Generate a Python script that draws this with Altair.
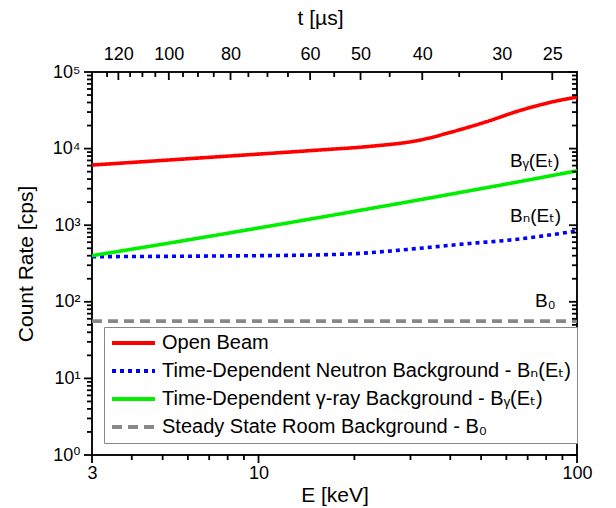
import math
import altair as alt
import pandas as pd

FONT = "Liberation Sans, Arial, DejaVu Sans, sans-serif"

# ---- data (E in keV, count rate in cps) ----
open_E = [3, 7.04, 15.6, 22.4, 32.1, 40.7, 51.9, 66, 84, 100]
open_V = [6100, 7700, 9600, 10700, 12900, 16600, 22400, 31300, 40900, 47000]
neut_E = [3, 7.2, 15.6, 20, 32, 46, 62.7, 82, 100]
neut_V = [388, 396, 410, 425, 499, 578, 645, 745, 840]
gamma_E = [3, 5, 10, 20, 40, 70, 100]
gamma_V = [400, 566, 920, 1517, 2535, 3880, 5130]
room_E = [3, 100]
room_V = [56, 56]

series_names = [
    "Open Beam",
    "Time-Dependent Neutron Background - Bₙ(Eₜ)",
    "Time-Dependent γ-ray Background - Bᵧ(Eₜ)",
    "Steady State Room Background - B₀",
]
series_colors = ["#ff0000", "#0000ff", "#00ee00", "#888888"]
series_dash = [[1, 0], [4, 4], [1, 0], [10, 6]]

# annotation labels
ann_text = ["Bᵧ(Eₜ)", "Bₙ(Eₜ)", "B₀"]
ann_E = [61.6, 61.6, 73.8]
ann_V = [5750, 1100, 85.5]

# axis ticks
x_major = [3, 10, 100]
x_minor = [4, 5, 6, 7, 8, 9, 20, 30, 40, 50, 60, 70, 80, 90]
y_major = [1, 10, 100, 1000, 10000, 100000]
y_minor = [m * 10 ** k for k in range(5) for m in range(2, 10)]
t_major = [120, 100, 80, 60, 50, 40, 30, 25]
t_minor = [125, 115, 110, 105, 95, 90, 85, 75, 70, 65, 55, 45, 35]
FLIGHT = 72.3 * 100.0  # t[us] = 72.3 * L[m] / sqrt(E[eV]), L = 100 m


def t_to_E(t):
    return (FLIGHT / t) ** 2 / 1000.0


rows = []
for name, Es, Vs in [
    (series_names[0], open_E, open_V),
    (series_names[1], neut_E, neut_V),
    (series_names[2], gamma_E, gamma_V),
    (series_names[3], room_E, room_V),
]:
    for i, (e, v) in enumerate(zip(Es, Vs)):
        rows.append({"series": name, "E": e, "V": v, "order": i})
df = pd.DataFrame(rows)
ann_df = pd.DataFrame({"text": ann_text, "E": ann_E, "V": ann_V})
dummy = pd.DataFrame({"E": [10.0], "V": [100.0]})

W, H = 485, 383
X0, X1, Y0, Y1 = 3, 100, 1, 100000
xs = alt.Scale(type="log", domain=[X0, X1], nice=False)
ys = alt.Scale(type="log", domain=[Y0, Y1], nice=False)
PXD_X = W / math.log10(X1 / X0)   # pixels per decade along x
PXD_Y = H / math.log10(Y1 / Y0)   # pixels per decade along y

sup = "['⁰','¹','²','³','⁴','⁵']"

leg = alt.Legend(
    orient="none", legendX=12, legendY=255, title=None,
    direction="vertical", padding=6, strokeColor="#888888",
    fillColor="white", labelFont=FONT, labelFontSize=20,
    labelColor="black", labelLimit=1000,
    symbolType="stroke", symbolSize=1849, symbolStrokeWidth=4,
    clipHeight=20, rowPadding=8, labelOffset=5)

NOTK = dict(ticks=False, tickSize=0, grid=False, domain=False)

lines = alt.Chart(df).mark_line(strokeWidth=3.6, interpolate="monotone").encode(
    x=alt.X("E:Q", scale=xs, axis=alt.Axis(
        orient="bottom", values=x_major, labelPadding=9,
        format="d", title="E [keV]", titleY=46, titleBaseline="alphabetic", **NOTK)),
    y=alt.Y("V:Q", scale=ys, axis=alt.Axis(
        orient="left", values=y_major, labelPadding=12,
        labelExpr="'10' + " + sup + "[round(log(datum.value)/LN10)]",
        title="Count Rate [cps]", titleX=-60, titleY=191.5,
        titleBaseline="alphabetic", **NOTK)),
    color=alt.Color("series:N", scale=alt.Scale(domain=series_names, range=series_colors),
                    legend=leg),
    strokeDash=alt.StrokeDash("series:N", scale=alt.Scale(domain=series_names, range=series_dash),
                              legend=leg),
    order="order:Q",
)

top_labels = alt.Chart(dummy).mark_point(opacity=0).encode(
    x=alt.X("E:Q", scale=xs, axis=alt.Axis(
        orient="top", values=[t_to_E(t) for t in t_major], labelPadding=9,
        labelExpr="round(%f/sqrt(1000*datum.value))" % FLIGHT,
        title="t [µs]", titleX=228, titleY=-48, titleBaseline="alphabetic", **NOTK)))

# ---- tick marks: short line segments at the tick values, through the scales ----
seg = []
tid = 0


def add_x(vals, length, top):
    global tid
    for e in vals:
        if top:   # inward from the top edge
            v0, v1 = Y1, Y1 * 10 ** (-length / PXD_Y)
        else:     # outward below the bottom edge
            v0, v1 = Y0, Y0 * 10 ** (-length / PXD_Y)
        seg.append({"tid": tid, "E": e, "V": v0, "k": 0})
        seg.append({"tid": tid, "E": e, "V": v1, "k": 1})
        tid += 1


def add_y(vals, length, right):
    global tid
    for v in vals:
        if right:  # inward from the right edge
            e0, e1 = X1, X1 * 10 ** (-length / PXD_X)
        else:      # outward left of the left edge
            e0, e1 = X0, X0 * 10 ** (-length / PXD_X)
        seg.append({"tid": tid, "E": e0, "V": v, "k": 0})
        seg.append({"tid": tid, "E": e1, "V": v, "k": 1})
        tid += 1


add_x(x_major, 8, False)
add_x(x_minor, 5, False)
add_x([t_to_E(t) for t in t_major], 8, True)
add_x([t_to_E(t) for t in t_minor], 5, True)
add_y(y_major, 8, False)
add_y(y_minor, 5, False)
add_y(y_major, 8, True)
add_y(y_minor, 5, True)
seg_df = pd.DataFrame(seg)

tick_lines = alt.Chart(seg_df).mark_line(color="#000000", strokeWidth=1.8).encode(
    x=alt.X("E:Q", scale=xs, axis=None),
    y=alt.Y("V:Q", scale=ys, axis=None),
    detail="tid:N",
    order="k:Q",
)

ann = alt.Chart(ann_df).mark_text(align="left", baseline="alphabetic", font=FONT,
                                  fontSize=19, color="black").encode(
    x=alt.X("E:Q", scale=xs, axis=None),
    y=alt.Y("V:Q", scale=ys, axis=None),
    text="text:N",
)

chart = alt.layer(
    lines, ann, top_labels, tick_lines,
).resolve_axis(x="independent", y="independent").properties(
    width=W, height=H,
    padding={"left": 92, "top": 72, "right": 39, "bottom": 53},
    autosize=alt.AutoSizeParams(type="none"),
    background="white",
).configure_view(stroke="#111111", strokeWidth=2).configure_axis(
    labelFont=FONT, titleFont=FONT, labelFontSize=18, titleFontSize=21,
    labelColor="black", titleColor="black", titleFontWeight="normal",
    labelFlush=False, labelOverlap=False,
)

chart.save("out.html", embed_options={"renderer": "svg", "actions": False})
